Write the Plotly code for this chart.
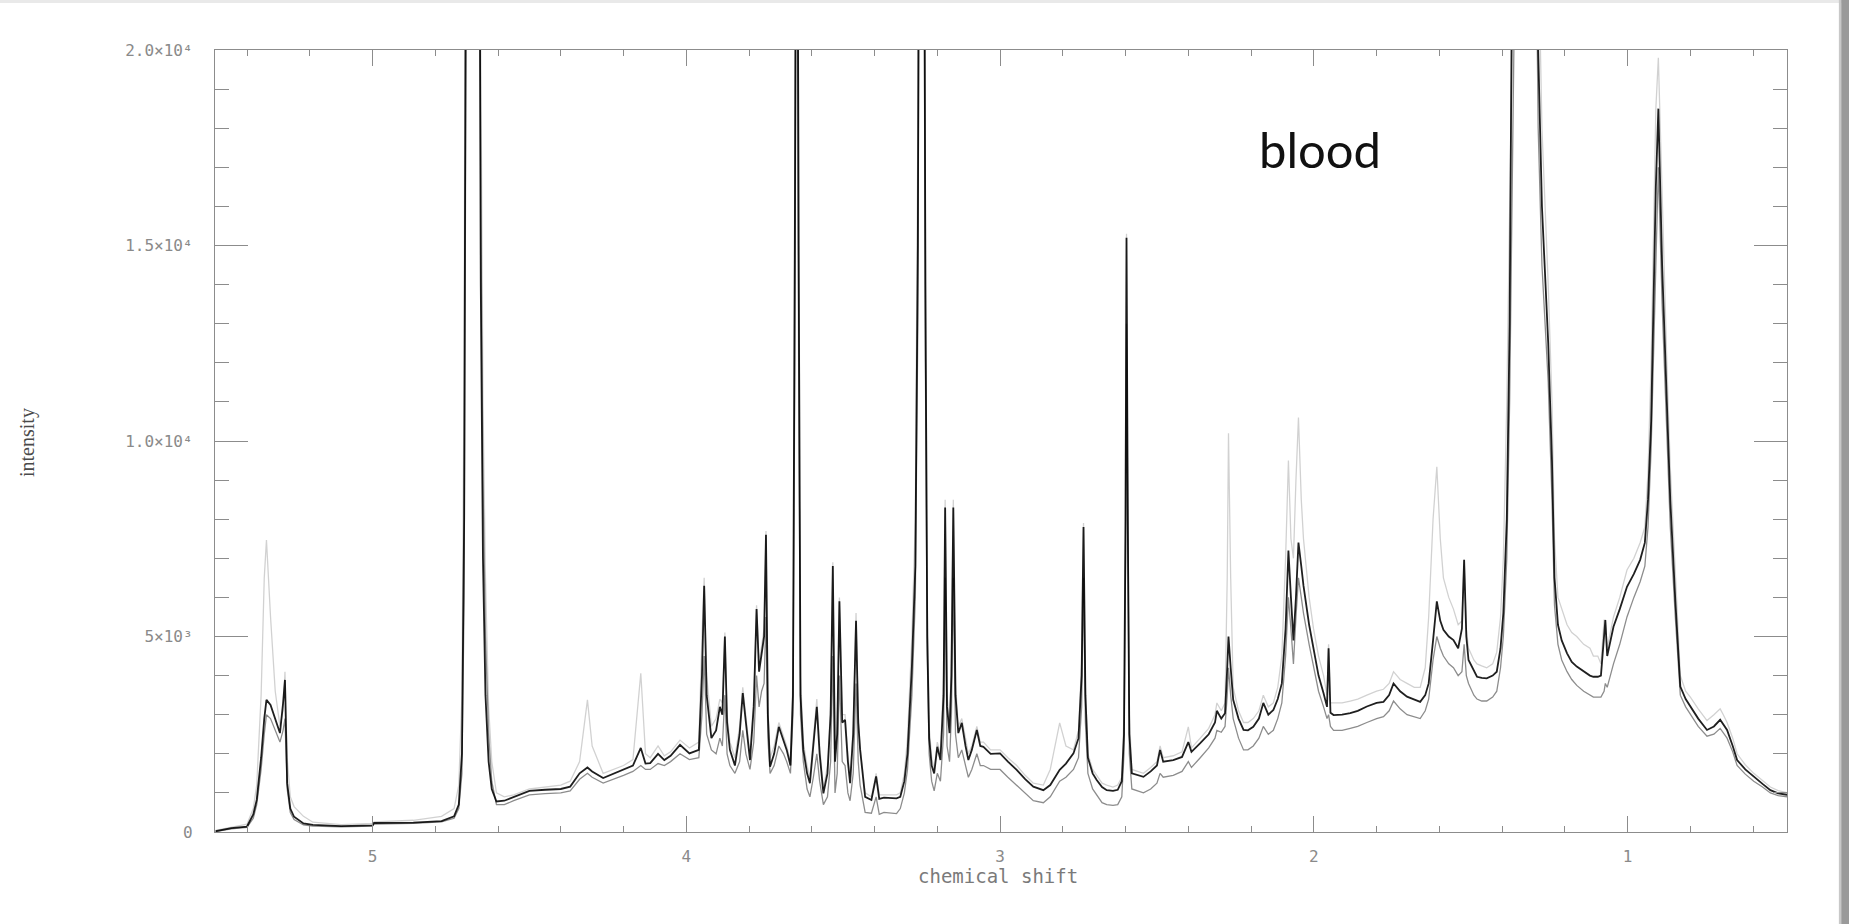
import plotly.graph_objects as go

# chemical shift (ppm) grid, high to low
ppm = [
    5.50, 5.45, 5.40, 5.38, 5.369, 5.355, 5.345, 5.338, 5.325, 5.31,
    5.295, 5.285, 5.279, 5.272, 5.262, 5.25, 5.22, 5.19, 5.10, 5.00,
    4.995, 4.87, 4.78, 4.74, 4.725, 4.715, 4.708, 4.70, 4.68, 4.665,
    4.655, 4.648, 4.64, 4.63, 4.62, 4.605, 4.58, 4.55, 4.50, 4.45,
    4.40, 4.37, 4.34, 4.315, 4.30, 4.265, 4.23, 4.20, 4.17, 4.145,
    4.13, 4.115, 4.09, 4.07, 4.05, 4.02, 3.99, 3.96, 3.95, 3.943,
    3.935, 3.92, 3.905, 3.893, 3.885, 3.877, 3.87, 3.861, 3.845, 3.83,
    3.82, 3.81, 3.797, 3.785, 3.776, 3.768, 3.76, 3.752, 3.746, 3.74,
    3.733, 3.72, 3.705, 3.69, 3.68, 3.668, 3.660, 3.654, 3.648, 3.642,
    3.636, 3.627, 3.615, 3.606, 3.595, 3.584, 3.575, 3.563, 3.55, 3.54,
    3.533, 3.526, 3.519, 3.512, 3.503, 3.494, 3.485, 3.478, 3.468, 3.459,
    3.452, 3.446, 3.43, 3.41, 3.395, 3.385, 3.37, 3.35, 3.33, 3.318,
    3.305, 3.295, 3.281, 3.27, 3.262, 3.255, 3.245, 3.238, 3.232, 3.226,
    3.218, 3.21, 3.20, 3.19, 3.18, 3.175, 3.169, 3.161, 3.155, 3.149,
    3.142, 3.133, 3.122, 3.11, 3.101, 3.09, 3.074, 3.063, 3.053, 3.03,
    3.00, 2.975, 2.947, 2.92, 2.894, 2.862, 2.84, 2.81, 2.79, 2.766,
    2.75, 2.74, 2.734, 2.728, 2.72, 2.705, 2.692, 2.675, 2.66, 2.64,
    2.625, 2.612, 2.605, 2.600, 2.597, 2.593, 2.588, 2.58, 2.56, 2.543,
    2.52, 2.50, 2.49, 2.48, 2.448, 2.42, 2.40, 2.39, 2.362, 2.335,
    2.315, 2.309, 2.295, 2.283, 2.276, 2.272, 2.265, 2.257, 2.24, 2.224,
    2.21, 2.193, 2.175, 2.161, 2.145, 2.129, 2.115, 2.102, 2.09, 2.081,
    2.073, 2.065, 2.057, 2.049, 2.04, 2.033, 2.015, 2.001, 1.985, 1.969,
    1.958, 1.953, 1.947, 1.937, 1.91, 1.884, 1.86, 1.831, 1.80, 1.778,
    1.76, 1.746, 1.725, 1.703, 1.68, 1.661, 1.645, 1.634, 1.62, 1.608,
    1.597, 1.587, 1.57, 1.555, 1.54, 1.528, 1.521, 1.514, 1.507, 1.49,
    1.48, 1.465, 1.449, 1.43, 1.417, 1.405, 1.396, 1.385, 1.376, 1.37,
    1.36, 1.34, 1.32, 1.30, 1.285, 1.273, 1.253, 1.241, 1.233, 1.222,
    1.21, 1.193, 1.178, 1.162, 1.14, 1.12, 1.109, 1.095, 1.085, 1.075,
    1.071, 1.065, 1.055, 1.045, 1.025, 1.002, 0.98, 0.96, 0.945, 0.935,
    0.925, 0.918, 0.91, 0.902, 0.89, 0.875, 0.864, 0.848, 0.832, 0.815,
    0.800, 0.775, 0.747, 0.725, 0.705, 0.695, 0.683, 0.665, 0.651, 0.625,
    0.598, 0.57, 0.545, 0.52, 0.49,
]

# dominant (dark) spectrum
intensity_main = [
    20, 100, 140, 450, 820, 1900, 2900, 3380, 3250, 2900,
    2530, 3300, 3890, 1250, 600, 390, 220, 180, 150, 170,
    230, 240, 280, 400, 700, 2000, 8000, 30000, 50000, 40000,
    14000, 7000, 3500, 1800, 1100, 780, 800, 900, 1050, 1080,
    1100, 1160, 1500, 1650, 1550, 1380, 1500, 1590, 1700, 2150,
    1750, 1760, 2000, 1840, 1950, 2230, 2010, 2100, 4000, 6300,
    3500, 2400, 2600, 3200, 3000, 5000, 2800, 2100, 1700, 2500,
    3550, 2800, 1840, 3200, 5700, 4100, 4600, 5000, 7600, 3000,
    1670, 2000, 2690, 2300, 2100, 1700, 3500, 15000, 32000, 15000,
    3500, 2100, 1500, 1250, 2200, 3200, 2000, 990, 1500, 3000,
    6800, 1800, 2500, 5900, 2800, 2870, 1800, 1250, 2500, 5400,
    2800, 2100, 900, 820, 1420, 850, 880, 870, 860, 900,
    1300, 2000, 4230, 6800, 15000, 35000, 35000, 14000, 5000, 2400,
    1700, 1500, 2180, 1840, 3500, 8300, 3200, 2530, 4000, 8300,
    3500, 2530, 2790, 2200, 1840, 2100, 2610, 2200, 2180, 2000,
    2010, 1800, 1590, 1350, 1160, 1070, 1200, 1590, 1750, 2010,
    2400, 4000, 7800, 3500, 1900, 1500, 1330, 1150, 1070, 1050,
    1080, 1300, 2500, 8000, 15200, 8000, 2500, 1500, 1450, 1410,
    1550, 1700, 2100, 1800, 1840, 1920, 2300, 2050, 2270, 2500,
    2800, 3100, 2900, 3040, 4200, 5000, 4200, 3380, 2900, 2610,
    2600, 2690, 2900, 3300, 3000, 3120, 3400, 3800, 5200, 7200,
    6000, 4900, 6000, 7400, 6800, 6300, 5300, 4660, 4000, 3550,
    3200, 4700, 3050, 2990, 3000, 3040, 3100, 3210, 3300, 3330,
    3500, 3800, 3600, 3460, 3380, 3330, 3500, 3800, 4900, 5900,
    5400, 5170, 5000, 4910, 4700, 5200, 6960, 5000, 4400, 4100,
    3970, 3940, 3930, 4000, 4100, 4700, 5600, 8000, 13000, 20000,
    28000, 38000, 42000, 32000, 20000, 16000, 12500, 9500, 6500, 5300,
    4900, 4570, 4350, 4230, 4100, 4000, 3970, 3970, 4000, 5000,
    5420, 4500, 4900, 5250, 5700, 6270, 6600, 6960, 7400, 8500,
    10500, 13000, 16500, 18500, 14500, 11000, 8490, 5930, 3720, 3400,
    3210, 2900, 2610, 2700, 2870, 2750, 2610, 2200, 1840, 1600,
    1410, 1230, 1070, 990, 950,
]

# lower-lying spectra (grey trace under the main one)
intensity_low = [
    10, 80, 120, 350, 700, 1600, 2500, 3000, 2900, 2600,
    2300, 2600, 2900, 1100, 500, 320, 180, 150, 130, 150,
    200, 220, 260, 350, 600, 1500, 6000, 25000, 45000, 35000,
    16000, 9000, 5000, 2500, 1300, 700, 700, 800, 950, 980,
    1000, 1050, 1350, 1500, 1400, 1250, 1350, 1450, 1550, 1700,
    1600, 1600, 1750, 1700, 1800, 2000, 1850, 1900, 3000, 4500,
    2500, 2100, 2000, 2400, 2200, 3500, 2000, 1700, 1500, 1800,
    2600, 2000, 1600, 2300, 4000, 3200, 3600, 3800, 5500, 2400,
    1500, 1700, 2200, 2000, 1800, 1500, 3000, 12000, 28000, 12000,
    3000, 1800, 1100, 900, 1400, 2000, 1300, 700, 900, 1800,
    4500, 1000, 1500, 4000, 1800, 1700, 1000, 800, 1500, 3800,
    1800, 1200, 500, 480, 900, 450, 500, 480, 470, 600,
    1000, 1600, 3500, 6000, 13000, 30000, 30000, 12000, 4500, 2000,
    1300, 1050, 1500, 1300, 2500, 6500, 2200, 1800, 3000, 6500,
    2500, 1900, 2100, 1700, 1400, 1600, 2000, 1700, 1700, 1600,
    1600, 1400, 1200, 1000, 800, 750, 900, 1300, 1400, 1600,
    1900, 3200, 6500, 2800, 1500, 1100, 950, 750, 700, 680,
    700, 900, 2000, 7000, 13000, 7000, 2000, 1100, 1050, 1000,
    1100, 1250, 1500, 1400, 1450, 1550, 1800, 1650, 1900, 2150,
    2400, 2600, 2550, 2700, 3500, 4200, 3500, 2900, 2400, 2100,
    2100, 2200, 2400, 2700, 2500, 2600, 2900, 3300, 4500, 6000,
    5200, 4300, 5500, 6500, 6000, 5600, 4800, 4200, 3600, 3200,
    2900, 3000, 2700, 2600, 2600, 2650, 2700, 2800, 2900, 2950,
    3100, 3350, 3150, 3000, 2950, 2900, 3100, 3400, 4400, 5000,
    4700, 4500, 4300, 4200, 4000, 4100, 4800, 4000, 3800, 3500,
    3400, 3350, 3350, 3450, 3600, 4200, 5000, 7000, 11000, 17000,
    25000, 35000, 38000, 29000, 18000, 14500, 11500, 8500, 5800, 4800,
    4400, 4100, 3900, 3750, 3600, 3500, 3450, 3450, 3450, 3600,
    3800, 3700, 4000, 4300, 4800, 5500, 6000, 6400, 6800, 7800,
    9800, 12000, 15000, 17000, 13500, 10000, 7800, 5500, 3500, 3200,
    3000, 2700, 2450, 2500, 2650, 2550, 2400, 2050, 1700, 1480,
    1300, 1150, 1000, 930, 900,
]

# faint spectra with the tallest peak tops
intensity_high = [
    40, 120, 200, 600, 1200, 3500, 6500, 7470, 5500, 3600,
    2700, 3100, 4100, 1900, 900, 650, 400, 250, 190, 220,
    260, 300, 400, 600, 1200, 3500, 12000, 40000, 60000, 50000,
    20000, 11000, 6500, 3200, 1800, 1000, 900, 950, 1100, 1150,
    1200, 1300, 1800, 3380, 2200, 1500, 1600, 1700, 1850, 4060,
    2000, 1900, 2200, 1950, 2050, 2350, 2150, 2300, 5000, 6500,
    4000, 2700, 2900, 3400, 3300, 5100, 3000, 2300, 1900, 2700,
    3700, 3000, 2000, 3400, 5800, 4300, 4800, 5200, 7700, 3200,
    1900, 2200, 2800, 2450, 2200, 1800, 4000, 18000, 36000, 18000,
    4000, 2300, 1700, 1400, 2400, 3400, 2200, 1100, 1700, 3200,
    6900, 2000, 2700, 6000, 3000, 3000, 2000, 1400, 2700, 5600,
    3000, 2200, 1000, 900, 1500, 950, 950, 950, 950, 1000,
    1500, 2400, 5000, 8000, 18000, 40000, 40000, 16000, 6000, 2700,
    1900, 1600, 2300, 2000, 4000, 8500, 3500, 2700, 4500, 8500,
    3800, 2700, 2900, 2400, 2000, 2200, 2700, 2300, 2300, 2100,
    2100, 1900, 1700, 1450, 1250, 1200, 1600, 2790, 2200, 2100,
    2600, 4300, 7900, 3700, 2000, 1600, 1450, 1250, 1200, 1150,
    1200, 1400, 3000, 9000, 15300, 9000, 3000, 1600, 1550, 1500,
    1650, 1800, 2200, 1900, 1950, 2050, 2690, 2150, 2400, 2650,
    3000, 3300, 3100, 3300, 6500, 10200, 6500, 3700, 3100, 2800,
    2800, 2900, 3100, 3500, 3200, 3300, 3700, 4500, 7000, 9500,
    7500, 7000, 9000, 10600, 8500, 7500, 6000, 5200, 4500, 4000,
    3500, 4800, 3300, 3300, 3300, 3350, 3400, 3500, 3600, 3650,
    3800, 4100, 3900, 3800, 3700, 3700, 4200, 5500, 8000, 9340,
    7500, 6500, 6000, 5700, 5300, 5400, 6960, 5200, 4700, 4400,
    4300, 4250, 4200, 4300, 4600, 5500, 7000, 11000, 18000, 26000,
    34000, 42000, 46000, 36000, 23000, 18000, 14000, 11000, 7500, 6000,
    5700, 5300, 5100, 5000, 4800, 4700, 4500, 4500, 4300, 5420,
    5420, 4700, 5100, 5500, 6000, 6700, 7000, 7400, 7800, 9200,
    12000, 15000, 18500, 19800, 16000, 12000, 9300, 6500, 4000, 3600,
    3450, 3150, 2850, 3000, 3150, 3000, 2800, 2400, 2000, 1720,
    1500, 1320, 1150, 1060, 1000,
]

x_tick_vals = [5, 4, 3, 2, 1]
x_tick_text = ["5", "4", "3", "2", "1"]
y_tick_vals = [0, 5000, 10000, 15000, 20000]
y_tick_text = ["0", "5×10³", "1.0×10⁴", "1.5×10⁴", "2.0×10⁴"]

AX = "#8c8c8c"
TICKFONT = dict(family="DejaVu Sans Mono", size=16, color="#8a8a8a")

fig = go.Figure()
for series, color, width in [
    (intensity_high, "rgba(0,0,0,0.18)", 1.3),
    (intensity_low, "rgba(0,0,0,0.45)", 1.3),
    (intensity_main, "rgba(0,0,0,0.88)", 1.8),
]:
    fig.add_trace(go.Scatter(
        x=ppm, y=series, mode="lines",
        line=dict(color=color, width=width),
        showlegend=False, hoverinfo="skip",
    ))

fig.update_layout(
    width=1849, height=924, autosize=False,
    margin=dict(l=215, r=62, t=50, b=92),
    paper_bgcolor="white", plot_bgcolor="white",
    xaxis=dict(
        range=[5.502, 0.492], showgrid=False, zeroline=False,
        showline=True, linecolor=AX, linewidth=1.3, mirror="allticks",
        ticks="inside", ticklen=16, tickwidth=1, tickcolor=AX,
        tickmode="array", tickvals=x_tick_vals, ticktext=x_tick_text,
        tickfont=TICKFONT, ticklabelstandoff=10,
        minor=dict(ticks="inside", ticklen=6, tickcolor=AX, tickwidth=1,
                   tickmode="linear", tick0=0, dtick=0.2, showgrid=False),
    ),
    yaxis=dict(
        range=[0, 20000], showgrid=False, zeroline=False,
        showline=True, linecolor=AX, linewidth=1.3, mirror="allticks",
        ticks="inside", ticklen=33, tickwidth=1, tickcolor=AX,
        tickmode="array", tickvals=y_tick_vals, ticktext=y_tick_text,
        tickfont=TICKFONT, ticklabelstandoff=18,
        minor=dict(ticks="inside", ticklen=14, tickcolor=AX, tickwidth=1,
                   tickmode="linear", tick0=0, dtick=1000, showgrid=False),
    ),
    annotations=[
        dict(text="blood", xref="paper", yref="paper", x=0.7029, y=0.8734,
             xanchor="center", yanchor="middle", showarrow=False,
             font=dict(family="Lato", size=49, color="#111111")),
        dict(text="chemical shift", xref="paper", yref="paper", x=0.498, y=-0.0563,
             xanchor="center", yanchor="middle", showarrow=False,
             font=dict(family="DejaVu Sans Mono", size=19, color="#7a7a7a")),
        dict(text="intensity", xref="paper", yref="paper", x=-0.1196, y=0.4987,
             xanchor="center", yanchor="middle", showarrow=False, textangle=-90,
             font=dict(family="Liberation Serif", size=20, color="#4a4a4a")),
    ],
    shapes=[
        dict(type="rect", xref="paper", yref="paper", x0=-0.2, x1=1.2,
             y0=1.0601, y1=1.08, fillcolor="#e9e9e9", line=dict(width=0), layer="below"),
        dict(type="rect", xref="paper", yref="paper", x0=1.0330, x1=1.0345,
             y0=-0.2, y1=1.2, fillcolor="#c8c8c8", line=dict(width=0)),
        dict(type="rect", xref="paper", yref="paper", x0=1.0345, x1=1.05,
             y0=-0.2, y1=1.2, fillcolor="#9a9a9a", line=dict(width=0)),
    ],
)

fig.write_html("out.html")
